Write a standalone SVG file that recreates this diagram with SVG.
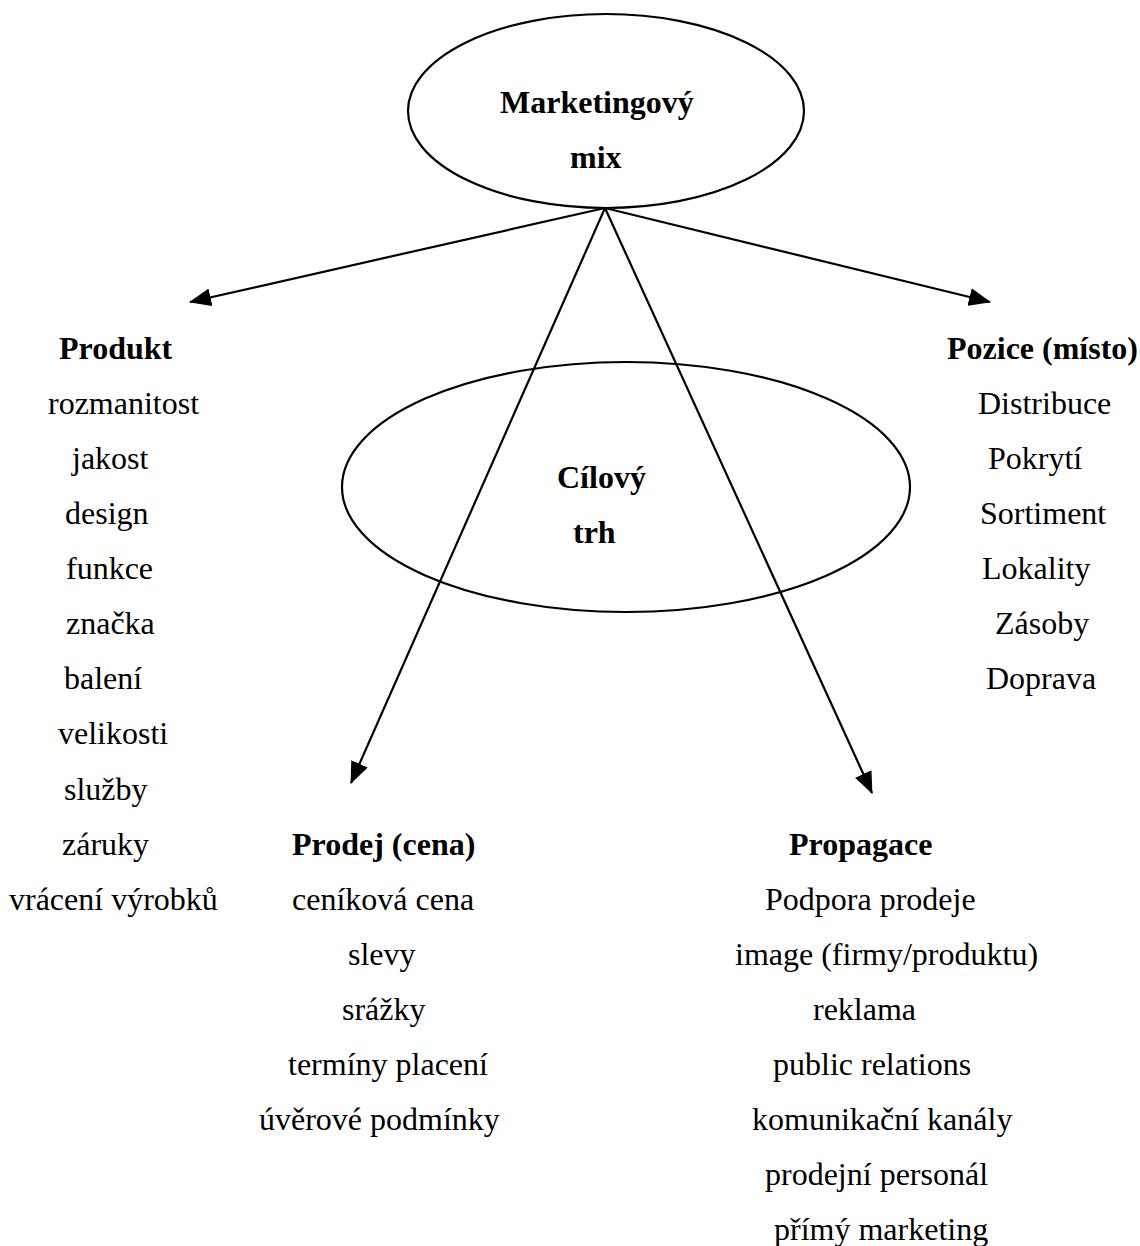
<svg xmlns="http://www.w3.org/2000/svg" width="1140" height="1246" viewBox="0 0 1140 1246">
<defs>
<style>
text{font-family:"Liberation Serif","Times New Roman",serif;font-size:32px;fill:#000}
.b{font-weight:bold}
.shape{fill:none;stroke:#000;stroke-width:2.2}
.conn{stroke:#000;stroke-width:2.2;fill:none}
</style>
<marker id="arr" markerUnits="userSpaceOnUse" markerWidth="22" markerHeight="18" refX="21" refY="9" orient="auto">
<path d="M0,0 L22,9 L0,18 z" fill="#000"/>
</marker>
</defs>
<rect width="1140" height="1246" fill="#fff"/>
<g id="target-market">
<ellipse class="shape" cx="626" cy="487" rx="284" ry="125"/>
<text class="b" x="557" y="488">Cílový</text>
<text class="b" x="573" y="543">trh</text>
</g>
<g id="connectors">
<line class="conn" x1="605" y1="208" x2="190" y2="302" marker-end="url(#arr)"/>
<line class="conn" x1="605" y1="208" x2="990" y2="302" marker-end="url(#arr)"/>
<line class="conn" x1="605" y1="208" x2="351" y2="783" marker-end="url(#arr)"/>
<line class="conn" x1="605" y1="208" x2="872" y2="793" marker-end="url(#arr)"/>
</g>
<g id="marketing-mix">
<ellipse class="shape" cx="606" cy="111" rx="198" ry="97" fill="#fff"/>
<text class="b" x="500" y="113">Marketingový</text>
<text class="b" x="570" y="168">mix</text>
</g>
<g id="produkt">
<text class="b" x="59" y="359">Produkt</text>
<text x="48" y="414">rozmanitost</text>
<text x="72" y="469">jakost</text>
<text x="65" y="524">design</text>
<text x="66" y="579">funkce</text>
<text x="66" y="634">značka</text>
<text x="64" y="689">balení</text>
<text x="58" y="744">velikosti</text>
<text x="64" y="800">služby</text>
<text x="62" y="855">záruky</text>
<text x="9" y="910">vrácení výrobků</text>
</g>
<g id="pozice">
<text class="b" x="947" y="359">Pozice (místo)</text>
<text x="978" y="414">Distribuce</text>
<text x="988" y="469">Pokrytí</text>
<text x="980" y="524">Sortiment</text>
<text x="982" y="579">Lokality</text>
<text x="995" y="634">Zásoby</text>
<text x="986" y="689">Doprava</text>
</g>
<g id="prodej">
<text class="b" x="292" y="855">Prodej (cena)</text>
<text x="292" y="910">ceníková cena</text>
<text x="348" y="965">slevy</text>
<text x="342" y="1020">srážky</text>
<text x="288" y="1075">termíny placení</text>
<text x="259" y="1130">úvěrové podmínky</text>
</g>
<g id="propagace">
<text class="b" x="789" y="855">Propagace</text>
<text x="765" y="910">Podpora prodeje</text>
<text x="735" y="965">image (firmy/produktu)</text>
<text x="813" y="1020">reklama</text>
<text x="773" y="1075">public relations</text>
<text x="752" y="1130">komunikační kanály</text>
<text x="765" y="1185">prodejní personál</text>
<text x="774" y="1240">přímý marketing</text>
</g>
</svg>
